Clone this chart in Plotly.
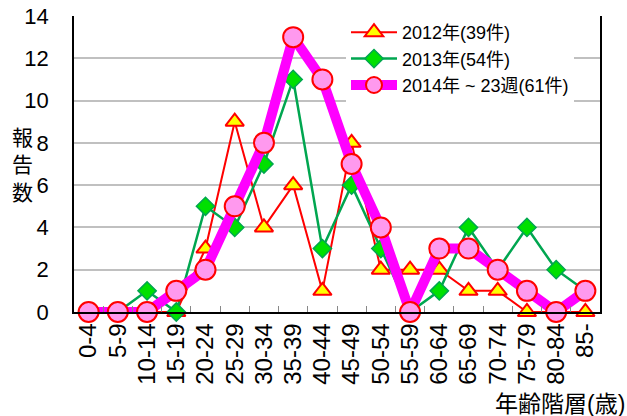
import plotly.graph_objects as go

categories = ["0-4", "5-9", "10-14", "15-19", "20-24", "25-29", "30-34", "35-39",
              "40-44", "45-49", "50-54", "55-59", "60-64", "65-69", "70-74",
              "75-79", "80-84", "85-"]
s2012 = [0, 0, 0, 0, 3, 9, 4, 6, 1, 8, 2, 2, 2, 1, 1, 0, 0, 0]
s2013 = [0, 0, 1, 0, 5, 4, 7, 11, 3, 6, 3, 0, 1, 4, 2, 4, 2, 1]
s2014 = [0, 0, 0, 1, 2, 5, 8, 13, 11, 7, 4, 0, 3, 3, 2, 1, 0, 1]
names = ["2012年(39件)", "2013年(54件)", "2014年 ~ 23週(61件)"]
y_ticks = [0, 2, 4, 6, 8, 10, 12, 14]

FONT = "Liberation Sans, Arial, Noto Sans CJK JP, sans-serif"

W, H = 627, 416
# plot area in page pixels: x 74..600, y 16..312
L, T = 74, 16
R = W - 600
B = H - 312

fig = go.Figure()
fig.add_trace(go.Scatter(
    x=categories, y=s2012, name=names[0], mode="lines+markers",
    line=dict(color="#ff0000", width=2),
    marker=dict(symbol="triangle-up", size=16, color="#ffff00",
                line=dict(color="#ff0000", width=2)),
    cliponaxis=False))
fig.add_trace(go.Scatter(
    x=categories, y=s2013, name=names[1], mode="lines+markers",
    line=dict(color="#00a650", width=2.5),
    marker=dict(symbol="diamond", size=14, color="#00e000",
                line=dict(color="#00a650", width=1.5)),
    cliponaxis=False))
fig.add_trace(go.Scatter(
    x=categories, y=s2014, name=names[2], mode="lines+markers",
    line=dict(color="#ff00ff", width=10),
    marker=dict(symbol="circle", size=20, color="#ff99ee",
                line=dict(color="#ff0000", width=2)),
    cliponaxis=False))

pw = W - L - R
ph = H - T - B


def px_x(x):  # page pixel -> paper
    return (x - L) / pw


def px_y(y):
    return (H - B - y) / ph


fig.update_layout(
    width=W, height=H,
    margin=dict(l=L, r=R, t=T, b=B, autoexpand=False),
    paper_bgcolor="white", plot_bgcolor="white",
    font=dict(family=FONT, color="black"),
    showlegend=True,
    legend=dict(x=px_x(346), y=px_y(14), xanchor="left", yanchor="top",
                bgcolor="white", borderwidth=0,
                font=dict(size=18, family=FONT), tracegroupgap=0,
                itemwidth=46),
    xaxis=dict(
        type="category", categoryorder="array", categoryarray=categories,
        showline=True, linecolor="black", linewidth=1.5, automargin=False,
        ticks="inside", tickson="boundaries", ticklen=6, tickcolor="#888888",
        tickangle=-90, tickfont=dict(size=24, family=FONT),
        showgrid=False, range=[-0.5, len(categories) - 0.5]),
    yaxis=dict(
        range=[0, 14], tickvals=y_ticks, ticktext=[str(v) for v in y_ticks],
        showline=True, linecolor="black", linewidth=1.5, mirror=True,
        automargin=False,
        showgrid=True, gridcolor="#c0c0c0", gridwidth=1.5,
        zeroline=False,
        tickfont=dict(size=22, family=FONT),
        ticks="outside", ticklen=19, tickcolor="rgba(0,0,0,0)"),
    annotations=[
        dict(text="報<br>告<br>数", x=px_x(22), y=px_y(165), xref="paper", yref="paper",
             xanchor="center", yanchor="middle",
             showarrow=False, font=dict(size=21, family=FONT)),
        dict(text="年齢階層(歳)", x=px_x(493), y=px_y(404), xref="paper", yref="paper",
             xanchor="left", yanchor="middle",
             showarrow=False, font=dict(size=23, family=FONT)),
    ],
)

fig.write_html("out.html", config={"displayModeBar": False},
               post_script="document.body.style.margin='0';")
